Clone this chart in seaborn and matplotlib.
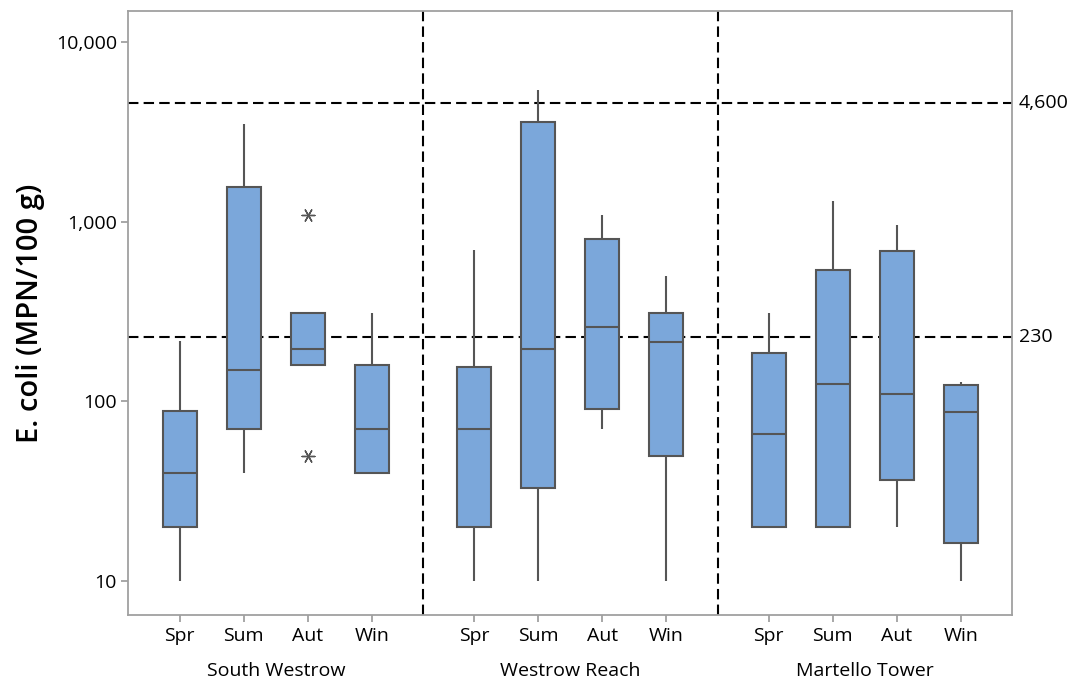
import numpy as np
import pandas as pd
import matplotlib
matplotlib.use("Agg")
import matplotlib.pyplot as plt
import matplotlib.transforms as mtransforms
from matplotlib.ticker import FixedLocator, FixedFormatter, NullLocator
import seaborn as sns

# ---- data: five-number summaries (MPN/100 g) per site and season ----
sites = ["South Westrow", "Westrow Reach", "Martello Tower"]
seasons = ["Spr", "Sum", "Aut", "Win"]

sw_low = [10, 40, 160, 40]
sw_q1 = [20, 70, 160, 40]
sw_med = [40, 150, 195, 70]
sw_q3 = [89, 1560, 310, 160]
sw_high = [217, 3500, 310, 310]

wr_low = [10, 10, 70, 10]
wr_q1 = [20, 33, 91, 50]
wr_med = [70, 195, 260, 215]
wr_q3 = [155, 3600, 800, 310]
wr_high = [700, 5400, 1100, 500]

mt_low = [20, 20, 20, 10]
mt_q1 = [20, 20, 36.5, 16.3]
mt_med = [66, 125, 110, 87.5]
mt_q3 = [187, 540, 690, 124]
mt_high = [310, 1300, 960, 128]

# outliers: (site index, season index, value)
outlier_site = [0, 0]
outlier_season = [2, 2]
outlier_value = [1100, 50]

# classification limits
limits = [4600, 230]
limit_labels = ["4,600", "230"]

ytick_values = [10, 100, 1000, 10000]
ytick_labels = ["10", "100", "1,000", "10,000"]

summaries = [
    (sw_low, sw_q1, sw_med, sw_q3, sw_high),
    (wr_low, wr_q1, wr_med, wr_q3, wr_high),
    (mt_low, mt_q1, mt_med, mt_q3, mt_high),
]

GROUP_STEP = 4.6  # spacing between site panels on the x axis


def xpos(g, s):
    return g * GROUP_STEP + s


rows = []
for g, site in enumerate(sites):
    low, q1, med, q3, high = summaries[g]
    for s, season in enumerate(seasons):
        for v in (low[s], q1[s], med[s], q3[s], high[s]):
            rows.append({"site": site, "season": season,
                         "pos": xpos(g, s), "value": v})
df = pd.DataFrame(rows)

out_df = pd.DataFrame({
    "pos": [xpos(g, s) for g, s in zip(outlier_site, outlier_season)],
    "value": outlier_value,
})

sns.set_style("white")
plt.rcParams["font.family"] = ["Open Sans", "DejaVu Sans"]
plt.rcParams["text.color"] = "black"
plt.rcParams["axes.labelcolor"] = "black"

BOX_FILL = "#7BA7DA"
EDGE = "#555555"
SPINE = "#a0a0a0"

fig = plt.figure(figsize=(10.78, 6.84), dpi=100)
ax = fig.add_axes([0.1187, 0.1009, 0.8201, 0.8831])

sns.boxplot(data=df, x="pos", y="value", orient="x", native_scale=True,
            log_scale=(False, True), whis=(0, 100), width=0.53,
            color=BOX_FILL, saturation=1, linecolor=EDGE, linewidth=1.5,
            showcaps=False, showfliers=False, ax=ax, zorder=3)

sns.scatterplot(data=out_df, x="pos", y="value", marker=(6, 2, 90), s=85,
                color=EDGE, edgecolor=EDGE, linewidth=1.0, ax=ax, zorder=4,
                legend=False)

# reference lines
for lim in limits:
    ax.axhline(lim, color="black", lw=1.5, ls=(0, (5, 2.5)), zorder=2)
for g in range(len(sites) - 1):
    ax.axvline((xpos(g, 3) + xpos(g + 1, 0)) / 2, color="black", lw=1.5,
               ls=(0, (5, 2.5)), zorder=2)

ax.set_xlim(-0.81, 13.0)
ax.set_ylim(6.47, 14970)

ax.yaxis.set_major_locator(FixedLocator(ytick_values))
ax.yaxis.set_major_formatter(FixedFormatter(ytick_labels))
ax.yaxis.set_minor_locator(NullLocator())

xt = [xpos(g, s) for g in range(len(sites)) for s in range(len(seasons))]
ax.xaxis.set_major_locator(FixedLocator(xt))
ax.xaxis.set_major_formatter(FixedFormatter(seasons * len(sites)))
ax.xaxis.set_minor_locator(NullLocator())

ax.tick_params(axis="both", which="major", length=5, width=1.3,
               color=SPINE, labelsize=14, labelcolor="black",
               direction="out", bottom=True, left=True)
ax.tick_params(axis="x", pad=4)
ax.tick_params(axis="y", pad=3)

for sp in ax.spines.values():
    sp.set_color(SPINE)
    sp.set_linewidth(1.3)
    sp.set_visible(True)

ax.set_xlabel("")
ax.set_ylabel("E. coli (MPN/100 g)", fontsize=21, fontweight="semibold",
              labelpad=8, color="black")

# limit labels on the right
trans_r = mtransforms.blended_transform_factory(ax.transAxes, ax.transData)
for lim, lab in zip(limits, limit_labels):
    ax.text(1.008, lim, lab, transform=trans_r, ha="left", va="center",
            fontsize=14, color="black")

# site labels below the season ticks
trans_b = mtransforms.blended_transform_factory(ax.transData, ax.transAxes)
for g, site in enumerate(sites):
    ax.text((xpos(g, 0) + xpos(g, 3)) / 2, -0.092, site, transform=trans_b,
            ha="center", va="center", fontsize=14, color="black")

fig.savefig("out.png", dpi=100)
